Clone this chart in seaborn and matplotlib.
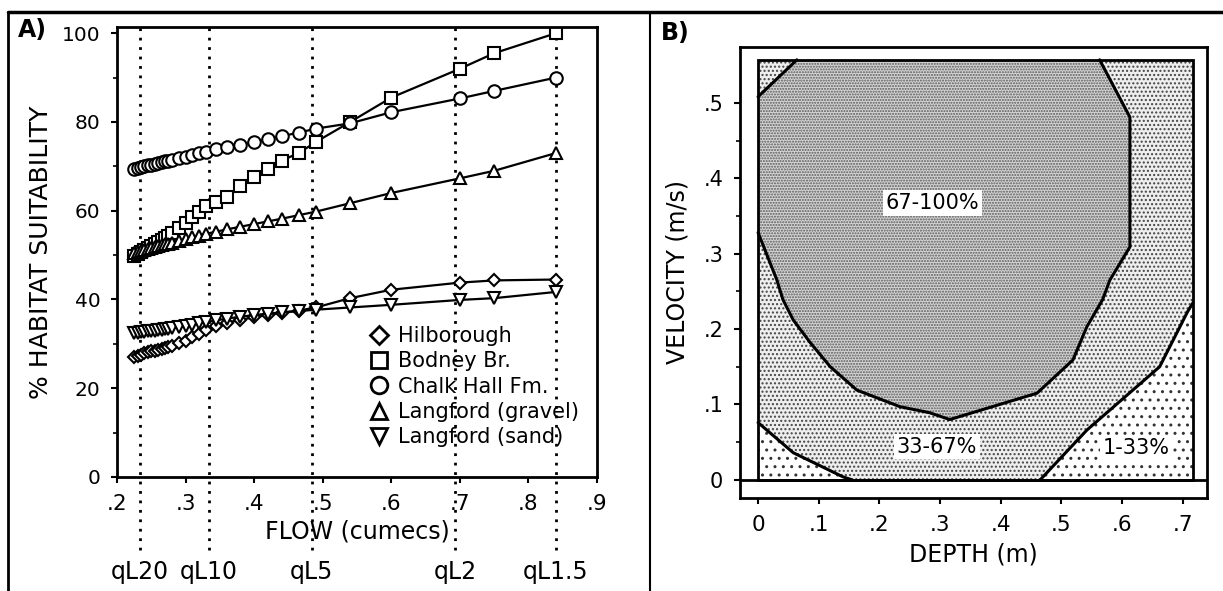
import matplotlib
matplotlib.use('Agg')
import matplotlib.pyplot as plt
from matplotlib.lines import Line2D
from matplotlib.patches import Rectangle
import seaborn as sns

# ---- panel A: habitat suitability vs flow ----
flow = [0.225, 0.23, 0.235, 0.24, 0.245, 0.25, 0.255, 0.26, 0.265, 0.27,
        0.275, 0.28, 0.29, 0.30, 0.31, 0.32, 0.33, 0.345, 0.36, 0.38,
        0.40, 0.42, 0.44, 0.465, 0.49, 0.54, 0.60, 0.70, 0.75, 0.84]
hilborough = [27.0, 27.3, 27.6, 27.9, 28.1, 28.3, 28.5, 28.7, 28.9, 29.1,
              29.3, 29.6, 30.1, 30.7, 31.5, 32.3, 33.1, 34.0, 34.8, 35.4,
              36.0, 36.5, 37.0, 37.5, 38.2, 40.3, 42.2, 43.8, 44.3, 44.5]
bodney = [49.8, 50.3, 50.8, 51.2, 51.6, 52.0, 52.4, 52.9, 53.3, 53.8,
          54.3, 54.9, 56.0, 57.3, 58.5, 59.8, 61.0, 62.0, 63.2, 65.5,
          67.5, 69.5, 71.3, 73.0, 75.5, 80.0, 85.5, 92.0, 95.5, 100.0]
chalk_hall = [69.3, 69.6, 69.8, 70.0, 70.2, 70.4, 70.6, 70.8, 71.0, 71.2,
              71.3, 71.5, 71.8, 72.1, 72.5, 72.9, 73.3, 73.8, 74.3, 74.9,
              75.5, 76.1, 76.8, 77.6, 78.5, 79.7, 82.2, 85.3, 87.0, 90.0]
langford_gravel = [50.5, 50.8, 51.0, 51.2, 51.4, 51.6, 51.8, 52.0, 52.2, 52.4,
                   52.6, 52.8, 53.2, 53.6, 54.0, 54.4, 54.8, 55.3, 55.8, 56.4,
                   57.0, 57.6, 58.2, 59.0, 59.8, 61.7, 64.0, 67.3, 69.0, 73.0]
langford_sand = [32.4, 32.5, 32.6, 32.7, 32.8, 32.9, 33.0, 33.1, 33.2, 33.3,
                 33.4, 33.5, 33.7, 34.0, 34.3, 34.6, 34.9, 35.3, 35.7, 36.1,
                 36.5, 36.8, 37.1, 37.4, 37.7, 38.2, 38.8, 39.9, 40.3, 41.7]
sites = ['Hilborough', 'Bodney Br.', 'Chalk Hall Fm.',
         'Langford (gravel)', 'Langford (sand)']
site_values = [hilborough, bodney, chalk_hall, langford_gravel, langford_sand]
site_markers = ['D', 's', 'o', '^', 'v']
marker_sizes = [6.5, 8.5, 9, 9, 9]

return_flows = [0.2335, 0.334, 0.484, 0.693, 0.840]
return_labels = ['qL20', 'qL10', 'qL5', 'qL2', 'qL1.5']

# ---- panel B: suitability zones, depth vs velocity ----
box_depth = 0.717
box_vel = 0.557
c67_depth = [0.0, 0.031, 0.041, 0.058, 0.086, 0.119, 0.163, 0.234, 0.283, 0.316,
             0.460, 0.519, 0.542, 0.568, 0.580, 0.613, 0.613, 0.563]
c67_vel = [0.328, 0.265, 0.239, 0.212, 0.182, 0.150, 0.119, 0.097, 0.089, 0.080,
           0.115, 0.159, 0.203, 0.239, 0.265, 0.309, 0.481, 0.557]
c67_corner_depth = [0.0, 0.064]
c67_corner_vel = [0.508, 0.557]
c33_left_depth = [0.0, 0.058, 0.14, 0.155]
c33_left_vel = [0.076, 0.036, 0.004, 0.0]
c33_right_depth = [0.465, 0.542, 0.662, 0.708, 0.717]
c33_right_vel = [0.0, 0.066, 0.150, 0.223, 0.235]
zone_labels = ['67-100%', '33-67%', '1-33%']
zone_depth = [0.288, 0.295, 0.624]
zone_vel = [0.367, 0.044, 0.042]

sns.set_style('ticks')
plt.rcParams['font.family'] = ['DejaVu Sans']
plt.rcParams['text.color'] = 'black'
plt.rcParams['axes.labelcolor'] = 'black'
plt.rcParams['xtick.color'] = 'black'
plt.rcParams['ytick.color'] = 'black'
plt.rcParams['hatch.linewidth'] = 1.0

fig = plt.figure(figsize=(12.23, 5.91), dpi=100)
ax1 = fig.add_axes([0.0957, 0.1929, 0.3925, 0.7614])
ax2 = fig.add_axes([0.6051, 0.1574, 0.3818, 0.7631])

# panel A
for name, vals, m, ms in zip(sites, site_values, site_markers, marker_sizes):
    sns.lineplot(x=flow, y=vals, ax=ax1, color='black', linewidth=1.6,
                 marker=m, markersize=ms, markerfacecolor='white',
                 markeredgecolor='black', markeredgewidth=1.5,
                 estimator=None, legend=False)

for q, lab in zip(return_flows, return_labels):
    ax1.plot([q, q], [-16.5, 101.4], color='black', linewidth=2.0,
             linestyle=(0, (1, 2.4)), clip_on=False, zorder=1)
    ax1.text(q, -21.5, lab, ha='center', va='center', fontsize=17)

ax1.set_xlim(0.2, 0.9)
ax1.set_ylim(0, 101.4)
ax1.set_xticks([0.2, 0.3, 0.4, 0.5, 0.6, 0.7, 0.8, 0.9])
ax1.set_xticklabels(['.2', '.3', '.4', '.5', '.6', '.7', '.8', '.9'], fontsize=15.5)
ax1.set_yticks([0, 20, 40, 60, 80, 100])
ax1.set_yticklabels(['0', '20', '40', '60', '80', '100'], fontsize=14.5)
ax1.set_yticks([10, 30, 50, 70, 90], minor=True)
ax1.tick_params(axis='both', which='major', length=4, width=1.5, pad=8)
ax1.tick_params(axis='y', which='minor', length=3, width=1.2)
ax1.set_xlabel('FLOW (cumecs)', fontsize=17, labelpad=4)
ax1.set_ylabel('% HABITAT SUITABILITY', fontsize=18, labelpad=6)
for sp in ax1.spines.values():
    sp.set_linewidth(2)
    sp.set_color('black')

handles = [Line2D([], [], linestyle='none', marker=m, markersize=12 if m != 'D' else 9,
                  markerfacecolor='white', markeredgecolor='black', markeredgewidth=2)
           for m in site_markers]
ax1.legend(handles, sites, loc='upper left', bbox_to_anchor=(0.525, 0.335),
           frameon=False, fontsize=15, handletextpad=0.4, labelspacing=0.25,
           borderpad=0, borderaxespad=0, handlelength=1.0)

# panel B
ax2.add_patch(Rectangle((0, 0), box_depth, box_vel, facecolor='white',
                        hatch='..', edgecolor='#333333', linewidth=0, zorder=1))
mid_x = c33_left_depth + c33_right_depth + [box_depth, 0.0]
mid_y = c33_left_vel + c33_right_vel + [box_vel, box_vel]
ax2.fill(mid_x, mid_y, facecolor='#eeeeee', hatch='....', edgecolor='#444444',
         linewidth=0, zorder=2)
top_x = c67_corner_depth + c67_depth[::-1]
top_y = c67_corner_vel + c67_vel[::-1]
ax2.fill(top_x, top_y, facecolor='#d4d4d4', hatch='......', edgecolor='#5a5a5a',
         linewidth=0, zorder=3)

for xs, ys in [(c67_depth, c67_vel), (c67_corner_depth, c67_corner_vel),
               (c33_left_depth, c33_left_vel), (c33_right_depth, c33_right_vel)]:
    sns.lineplot(x=xs, y=ys, ax=ax2, color='black', linewidth=2.2,
                 sort=False, estimator=None, legend=False, zorder=4)

ax2.add_patch(Rectangle((0, 0), box_depth, box_vel, facecolor='none',
                        edgecolor='black', linewidth=2, zorder=5))
ax2.axhline(0, color='black', linewidth=2, zorder=5)

for lab, dx, vy in zip(zone_labels, zone_depth, zone_vel):
    ax2.text(dx, vy, lab, ha='center', va='center', fontsize=15, zorder=6,
             bbox=dict(facecolor='white', edgecolor='none', pad=2))

ax2.set_xlim(-0.0297, 0.74)
ax2.set_ylim(-0.024, 0.574)
ax2.set_xticks([0, 0.1, 0.2, 0.3, 0.4, 0.5, 0.6, 0.7])
ax2.set_xticklabels(['0', '.1', '.2', '.3', '.4', '.5', '.6', '.7'], fontsize=15.5)
ax2.set_yticks([0, 0.1, 0.2, 0.3, 0.4, 0.5])
ax2.set_yticklabels(['0', '.1', '.2', '.3', '.4', '.5'], fontsize=15)
ax2.set_yticks([0.05, 0.15, 0.25, 0.35, 0.45], minor=True)
ax2.tick_params(axis='both', which='major', length=4, width=1.5, pad=8)
ax2.tick_params(axis='y', which='minor', length=3, width=1.2)
ax2.set_xlabel('DEPTH (m)', fontsize=17, labelpad=6)
ax2.set_ylabel('VELOCITY (m/s)', fontsize=17, labelpad=10)
for sp in ax2.spines.values():
    sp.set_linewidth(2)
    sp.set_color('black')

# figure frame and panel letters
fig.add_artist(Line2D([0.0065, 1.0], [0.98, 0.98], color='black', linewidth=2.5))
fig.add_artist(Line2D([0.0065, 0.0065], [0.0, 0.98], color='black', linewidth=2))
fig.add_artist(Line2D([0.5315, 0.5315], [0.0, 0.98], color='black', linewidth=1.5))
fig.text(0.015, 0.949, 'A)', fontsize=17, fontweight='bold', ha='left', va='center')
fig.text(0.54, 0.944, 'B)', fontsize=17, fontweight='bold', ha='left', va='center')

fig.savefig('out.png', dpi=100)
